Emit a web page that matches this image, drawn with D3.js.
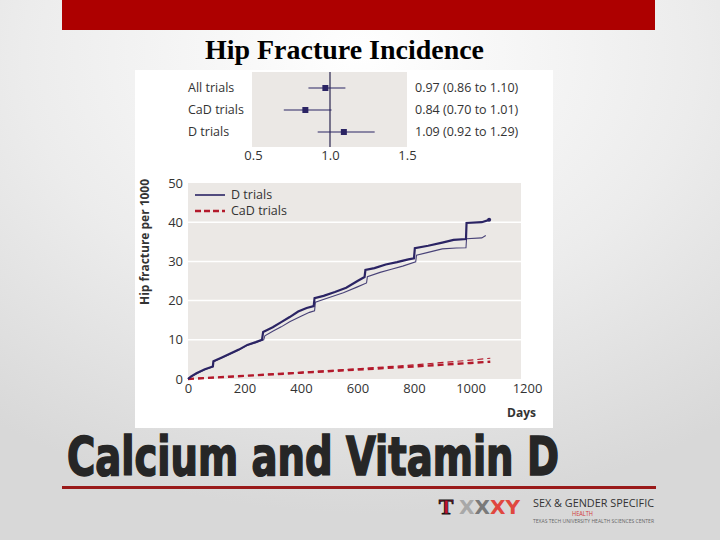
<!DOCTYPE html>
<html><head><meta charset="utf-8">
<script src="https://cdn.jsdelivr.net/npm/d3@7"></script>
<style>html,body{margin:0;padding:0;overflow:hidden;}svg{display:block;}</style>
</head><body>
<script>
// ---------- DATA ----------
const forestLabels = ["All trials", "CaD trials", "D trials"];
const forestEst = [0.97, 0.84, 1.09];
const forestLow = [0.86, 0.70, 0.92];
const forestHigh = [1.10, 1.01, 1.29];
const forestText = ["0.97 (0.86 to 1.10)", "0.84 (0.70 to 1.01)", "1.09 (0.92 to 1.29)"];
const forestTicks = [0.5, 1.0, 1.5];

const yTicks = [0, 10, 20, 30, 40, 50];
const xTicks = [0, 200, 400, 600, 800, 1000, 1200];
const legendLabels = ["D trials", "CaD trials"];

// [day, fractures per 1000]
const dTrialsThick = [[0,0],[10,0.6],[30,1.5],[60,2.5],[88,3.2],[90,4.5],[120,5.5],[150,6.5],[180,7.5],[210,8.7],[240,9.4],[262,10],[266,12],[300,13.2],[330,14.5],[360,15.8],[390,17.2],[420,18.1],[445,18.6],[448,20.6],[480,21.2],[520,22.2],[560,23.3],[600,25],[625,26],[628,27.8],[660,28.3],[700,29.2],[740,29.8],[780,30.5],[800,30.8],[803,33.4],[850,34.0],[900,34.8],[940,35.5],[984,35.7],[986,39.8],[1040,40],[1066,40.6]];
const dTrialsThin = [[0,0],[10,0.5],[30,1.3],[60,2.4],[88,3.1],[90,4.4],[120,5.4],[150,6.4],[180,7.4],[210,8.6],[240,9.3],[268,10],[272,11],[300,12.2],[330,13.3],[360,14.6],[400,16],[430,17],[448,17.4],[451,19.6],[500,20.8],[550,22],[600,23.5],[632,24.5],[635,26.1],[680,27.2],[720,28],[760,28.8],[806,29.9],[809,31.6],[850,32.3],[900,33.2],[950,33.4],[984,33.5],[986,35.8],[1040,36],[1054,36.6]];
const cadTrialsThick = [[0,0],[200,0.8],[400,1.6],[600,2.4],[800,3.2],[1000,4.1],[1070,4.4]];
const cadTrialsThin = [[0,0],[200,0.8],[400,1.7],[600,2.6],[800,3.6],[1000,4.8],[1070,5.3]];

// ---------- DRAW ----------
const W = 720, H = 540;
const navy = "#2b2464", red = "#b3192b", panel = "#ebe8e5";
const svg = d3.select("body").append("svg").attr("width", W).attr("height", H);
const defs = svg.append("defs");
const rg = defs.append("radialGradient").attr("id","bg").attr("cx","50%").attr("cy","10%").attr("r","85%");
rg.append("stop").attr("offset","0%").attr("stop-color","#ffffff");
rg.append("stop").attr("offset","55%").attr("stop-color","#ececec");
rg.append("stop").attr("offset","100%").attr("stop-color","#d8d8d8");
svg.append("rect").attr("width",W).attr("height",H).attr("fill","url(#bg)");

// top red bar
svg.append("rect").attr("x",62).attr("y",0).attr("width",593).attr("height",30).attr("fill","#ad0000");

// title
svg.append("text").attr("x",205).attr("y",59)
  .attr("font-family","'Liberation Serif', 'Times New Roman', serif").attr("font-weight","bold")
  .attr("font-size",27).attr("fill","#000").attr("textLength",279).attr("lengthAdjust","spacingAndGlyphs")
  .text("Hip Fracture Incidence");

// white image box
svg.append("rect").attr("x",135).attr("y",70).attr("width",418).attr("height",358).attr("fill","#ffffff");

const sans = "'Open Sans', 'Noto Sans', sans-serif";

// ---- forest plot ----
const fx = d3.scaleLinear().domain([0.5,1.5]).range([253,407]);
const fy = d3.scaleBand().domain(forestLabels).range([77,143]);
svg.append("rect").attr("x",fx(0.5)-1).attr("y",72).attr("width",fx(1.5)-fx(0.5)+1).attr("height",75).attr("fill",panel);
svg.append("line").attr("x1",fx(1)).attr("x2",fx(1)).attr("y1",72).attr("y2",147).attr("stroke","#2a2550").attr("stroke-width",1.2);
const fg = svg.append("g");
forestLabels.forEach((lab,i)=>{
  const cy = fy(lab)+fy.bandwidth()/2;
  fg.append("line").attr("x1",fx(forestLow[i])).attr("x2",fx(forestHigh[i])).attr("y1",cy).attr("y2",cy).attr("stroke",navy).attr("stroke-width",1.2);
  fg.append("rect").attr("x",fx(forestEst[i])-3).attr("y",cy-3).attr("width",6).attr("height",6).attr("fill",navy);
  fg.append("text").attr("x",188).attr("y",cy).attr("dy","0.35em").attr("font-family",sans).attr("font-size",12.5).attr("fill","#333").text(lab);
  fg.append("text").attr("x",415).attr("y",cy).attr("dy","0.35em").attr("font-family",sans).attr("font-size",12.5).attr("fill","#333").text(forestText[i]);
});
const fax = svg.append("g").attr("transform","translate(0,147)")
  .call(d3.axisBottom(fx).tickValues(forestTicks).tickFormat(d3.format(".1f")).tickSize(0).tickPadding(4));
fax.select(".domain").remove();
fax.selectAll("text").attr("font-family",sans).attr("font-size",13).attr("fill","#333");

// ---- main chart ----
const x = d3.scaleLinear().domain([0,1200]).range([188,527]);
const y = d3.scaleLinear().domain([0,50]).range([379,183]);
svg.append("rect").attr("x",x(0)).attr("y",y(50)).attr("width",521-x(0)).attr("height",y(0)-y(50)).attr("fill",panel);
svg.append("g").selectAll("line").data(yTicks.filter(d=>d>0 && d<50)).join("line")
  .attr("x1",x(0)).attr("x2",521).attr("y1",d=>y(d)).attr("y2",d=>y(d)).attr("stroke","#fff").attr("stroke-width",1.5);

const yax = svg.append("g").attr("transform",`translate(${x(0)},0)`)
  .call(d3.axisLeft(y).tickValues(yTicks).tickSize(0).tickPadding(5));
yax.select(".domain").remove();
yax.selectAll("text").attr("font-family",sans).attr("font-size",13).attr("fill","#333");
const xax = svg.append("g").attr("transform",`translate(0,${y(0)})`)
  .call(d3.axisBottom(x).tickValues(xTicks).tickFormat(d3.format("d")).tickSize(0).tickPadding(5));
xax.select(".domain").remove();
xax.selectAll("text").attr("font-family",sans).attr("font-size",13).attr("fill","#333");

svg.append("text").attr("transform","translate(149,242) rotate(-90)").attr("text-anchor","middle")
  .attr("font-family",sans).attr("font-weight","bold").attr("font-size",11.5).attr("fill","#333")
  .attr("textLength",126).attr("lengthAdjust","spacingAndGlyphs").text("Hip fracture per 1000");
svg.append("text").attr("x",536).attr("y",417).attr("text-anchor","end")
  .attr("font-family",sans).attr("font-weight","bold").attr("font-size",12).attr("fill","#333").text("Days");

const line = d3.line().x(d=>x(d[0])).y(d=>y(d[1]));
const plot = svg.append("g");
plot.append("path").attr("d",line(cadTrialsThin)).attr("fill","none").attr("stroke",red).attr("stroke-width",1.2).attr("stroke-dasharray","6,4");
plot.append("path").attr("d",line(cadTrialsThick)).attr("fill","none").attr("stroke",red).attr("stroke-width",2.4).attr("stroke-dasharray","6,4");
plot.append("path").attr("d",line(dTrialsThin)).attr("fill","none").attr("stroke",navy).attr("stroke-width",1.1).attr("stroke-opacity",0.85);
plot.append("path").attr("d",line(dTrialsThick)).attr("fill","none").attr("stroke",navy).attr("stroke-width",2.2);
const last = dTrialsThick[dTrialsThick.length-1];
plot.append("circle").attr("cx",x(last[0])).attr("cy",y(last[1])).attr("r",2).attr("fill",navy);

// legend
const lg = svg.append("g");
lg.append("line").attr("x1",195).attr("x2",225).attr("y1",195).attr("y2",195).attr("stroke",navy).attr("stroke-width",1.6);
lg.append("line").attr("x1",195).attr("x2",225).attr("y1",211).attr("y2",211).attr("stroke",red).attr("stroke-width",2.4).attr("stroke-dasharray","6,3");
lg.selectAll("text").data(legendLabels).join("text").attr("x",231).attr("y",(d,i)=>195+16*i).attr("dy","0.35em")
  .attr("font-family",sans).attr("font-size",12.5).attr("fill","#333").text(d=>d);

// big heading
svg.append("text").attr("x",67).attr("y",475)
  .attr("font-family","'DejaVu Sans Condensed', 'DejaVu Sans', sans-serif").attr("font-weight","bold")
  .attr("font-size",53).attr("fill","#262626").attr("stroke","#262626").attr("stroke-width",1.6)
  .attr("textLength",492).attr("lengthAdjust","spacingAndGlyphs")
  .text("Calcium and Vitamin D");
svg.append("rect").attr("x",62).attr("y",486).attr("width",594).attr("height",3).attr("fill","#9a1a1a");

// logo
const logo = svg.append("g");
logo.append("text").attr("x",446).attr("y",514).attr("text-anchor","middle")
  .attr("font-family","'Liberation Serif', serif").attr("font-weight","bold").attr("font-size",22)
  .attr("fill","#c8102e").attr("stroke","#111").attr("stroke-width",0.8).text("T");
const xxy = logo.append("text").attr("x",459).attr("y",514).attr("font-family","'DejaVu Sans Condensed', sans-serif")
  .attr("font-weight","bold").attr("font-size",20).attr("textLength",61).attr("lengthAdjust","spacingAndGlyphs");
xxy.append("tspan").attr("fill","#a8a8a8").text("X");
xxy.append("tspan").attr("fill","#7a7a7a").text("X");
xxy.append("tspan").attr("fill","#e0473f").text("XY");
logo.append("text").attr("x",533).attr("y",507).attr("font-family",sans).attr("font-size",10.5).attr("fill","#333")
  .attr("textLength",121).attr("lengthAdjust","spacingAndGlyphs").text("SEX & GENDER SPECIFIC");
logo.append("text").attr("x",572).attr("y",516).attr("font-family",sans).attr("font-size",7).attr("fill","#d23a3a")
  .attr("textLength",21).attr("lengthAdjust","spacingAndGlyphs").text("HEALTH");
logo.append("text").attr("x",533).attr("y",523).attr("font-family",sans).attr("font-size",5).attr("fill","#666")
  .attr("textLength",121).attr("lengthAdjust","spacingAndGlyphs").text("TEXAS TECH UNIVERSITY HEALTH SCIENCES CENTER");
</script>
</body></html>
